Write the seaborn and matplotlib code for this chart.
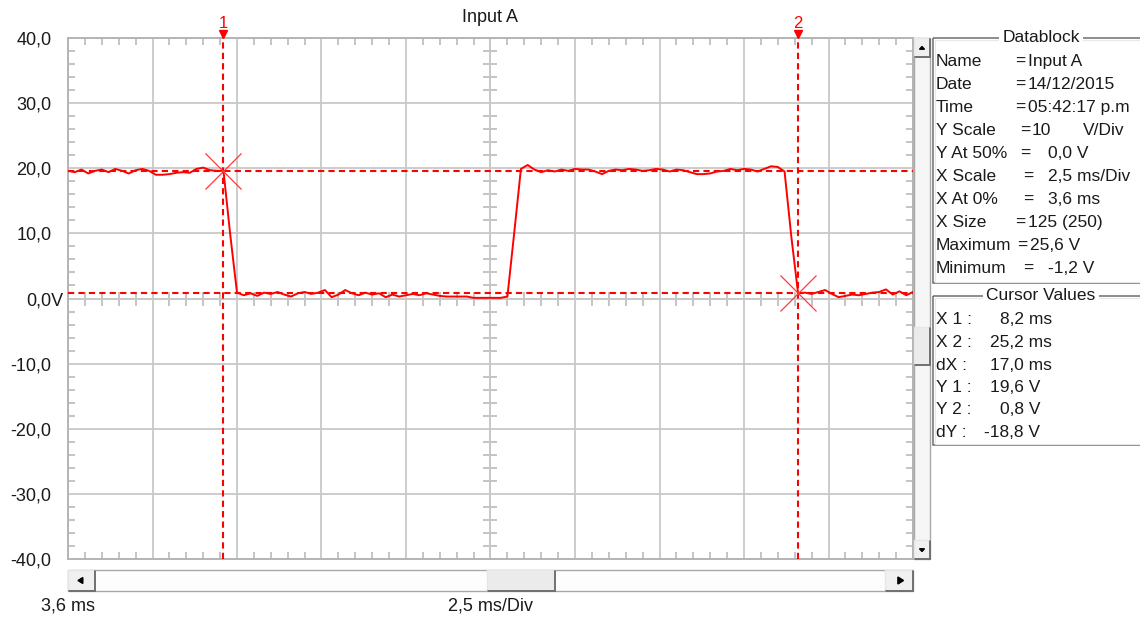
import numpy as np
import pandas as pd
import matplotlib
matplotlib.use("Agg")
import matplotlib.pyplot as plt
from matplotlib.patches import Rectangle, Polygon
from matplotlib.ticker import FixedLocator
from matplotlib.transforms import ScaledTranslation, blended_transform_factory
import seaborn as sns

# ---------------- captured trace ----------------
channel = "Input A"
t_start_ms = 3.6          # X at 0%
dt_ms = 0.2               # sample interval
x_div_ms = 2.5            # ms / div
y_div_v = 10              # V / div
n_xdiv = 10
n_ydiv = 8

volts = [
    19.6, 19.4, 19.8, 19.2, 19.6, 19.8, 19.4, 19.9, 19.6, 19.2,
    19.7, 19.9, 19.6, 19.0, 19.0, 19.1, 19.3, 19.4, 19.3, 19.9,
    20.1, 19.7, 19.6, 19.6, 9.8,
    0.9, 0.5, 0.8, 0.4, 0.9, 0.7, 1.0, 0.6, 0.3, 0.8,
    1.0, 0.7, 0.9, 1.3, 0.2, 0.6, 1.3, 0.8, 0.5, 0.9,
    0.6, 0.8, 0.2, 0.6, 0.3, 0.5, 0.7, 0.5, 0.8, 0.6,
    0.4, 0.3, 0.3, 0.3, 0.3, 0.1, 0.1, 0.1, 0.1, 0.1,
    0.3, 10.0, 19.9,
    20.5, 19.8, 19.4, 19.7, 19.5, 19.8, 19.6, 19.9, 19.8, 19.8,
    19.5, 19.1, 19.6, 19.8, 19.7, 19.9, 19.8, 19.6, 19.7, 19.9,
    19.8, 19.5, 19.8, 19.7, 19.4, 19.1, 19.1, 19.2, 19.5, 19.6,
    19.9, 19.7, 19.9, 19.8, 19.5, 19.9, 20.3, 20.2, 19.5,
    9.5, 0.8,
    0.9, 0.7, 1.0, 1.3, 0.7, 0.2, 0.4, 0.6, 0.5, 0.7,
    0.9, 1.0, 1.4, 0.6, 1.1, 0.5, 1.0,
]

y_tick_values = [40, 30, 20, 10, 0, -10, -20, -30, -40]
y_tick_labels = ["40,0", "30,0", "20,0", "10,0", "0,0V",
                 "-10,0", "-20,0", "-30,0", "-40,0"]

cursor_names = ["1", "2"]
cursor_x_ms = [8.2, 25.2]
cursor_y_v = [19.6, 0.8]

datablock_rows = [
    ("Name", "=", "Input A"),
    ("Date", "=", "14/12/2015"),
    ("Time", "=", "05:42:17 p.m"),
    ("Y Scale", "=", "10"),
    ("Y At 50%", "=", "0,0 V"),
    ("X Scale", "=", "2,5 ms/Div"),
    ("X At 0%", "=", "3,6 ms"),
    ("X Size", "=", "125 (250)"),
    ("Maximum", "=", "25,6 V"),
    ("Minimum", "=", "-1,2 V"),
]
cursor_rows = [
    ("X 1 :", "8,2 ms"),
    ("X 2 :", "25,2 ms"),
    ("dX :", "17,0 ms"),
    ("Y 1 :", "19,6 V"),
    ("Y 2 :", "0,8 V"),
    ("dY :", "-18,8 V"),
]

# ---------------- style ----------------
sns.set_theme(style="white")
plt.rcParams["font.family"] = ["Liberation Sans", "DejaVu Sans"]
TXT = "#1a1a1a"
RED = "#ff0000"
GRID = "#c8c8c8"
FRAME = "#b4b4b4"

W, H = 1140, 621
fig = plt.figure(figsize=(W / 100, H / 100), dpi=100)
fig.patch.set_facecolor("white")

L, R, T, B = 68, 913, 38, 559
pos = [L / W, 1 - B / H, (R - L) / W, (B - T) / H]

x_end = t_start_ms + n_xdiv * x_div_ms
y_top = n_ydiv / 2 * y_div_v
major_x = [t_start_ms + k * x_div_ms for k in range(n_xdiv + 1)]
minor_x = [t_start_ms + k * x_div_ms / 5 for k in range(n_xdiv * 5 + 1)]
major_y = [-y_top + k * y_div_v for k in range(n_ydiv + 1)]
minor_y = [-y_top + k * y_div_v / 5 for k in range(n_ydiv * 5 + 1)]
x_mid = t_start_ms + n_xdiv / 2 * x_div_ms

# centre axes: cross-hair spines with in/out minor ticks
axc = fig.add_axes(pos)
axc.set_zorder(0)
axc.set_xlim(t_start_ms, x_end)
axc.set_ylim(-y_top, y_top)
axc.xaxis.set_major_locator(FixedLocator(major_x))
axc.xaxis.set_minor_locator(FixedLocator(minor_x))
axc.yaxis.set_major_locator(FixedLocator(major_y))
axc.yaxis.set_minor_locator(FixedLocator(minor_y))
axc.grid(True, which="major", color=GRID, lw=1.3)
for s in ("top", "right"):
    axc.spines[s].set_visible(False)
axc.spines["left"].set_position(("data", x_mid))
axc.spines["bottom"].set_position(("data", 0))
for s in ("left", "bottom"):
    axc.spines[s].set_color(GRID)
    axc.spines[s].set_linewidth(1.3)
axc.tick_params(which="major", length=0, labelleft=False, labelbottom=False)
axc.tick_params(which="minor", direction="inout", length=10, width=1.1,
                color=FRAME, left=True, bottom=True)

# main axes
ax = fig.add_axes(pos)
ax.set_zorder(1)
ax.patch.set_visible(False)

t = np.round(t_start_ms + dt_ms * np.arange(len(volts)), 2)
df = pd.DataFrame({"t": t, "v": volts})
sns.lineplot(data=df, x="t", y="v", ax=ax, color=RED, lw=1.4,
             legend=False, zorder=3)

ax.set_xlim(t_start_ms, x_end)
ax.set_ylim(-y_top, y_top)
ax.set_xlabel("")
ax.set_ylabel("")
ax.xaxis.set_major_locator(FixedLocator(major_x))
ax.xaxis.set_minor_locator(FixedLocator(minor_x))
ax.yaxis.set_major_locator(FixedLocator(y_tick_values))
ax.yaxis.set_minor_locator(FixedLocator(minor_y))
ax.set_yticklabels(y_tick_labels)
for s in ax.spines.values():
    s.set_color(FRAME)
    s.set_linewidth(1.4)
ax.tick_params(which="major", length=0, labelbottom=False, labelleft=True,
               pad=12, labelsize=13, labelcolor=TXT)
ax.tick_params(which="minor", direction="in", length=5, width=1.1,
               color=FRAME, top=True, right=True, bottom=True, left=True)
# the zero label carries the unit; keep its number aligned with the others
for lab in ax.get_yticklabels():
    if lab.get_text().endswith("V"):
        lab.set_transform(lab.get_transform() +
                          ScaledTranslation(12 / 100, 0, fig.dpi_scale_trans))

# cursors
dash = (0, (3, 2))
top_tr = blended_transform_factory(ax.transData, ax.transAxes)
extra = 4 / (B - T)
for name, cx, cy in zip(cursor_names, cursor_x_ms, cursor_y_v):
    ax.axvline(cx, ymin=0, ymax=1 + extra, color=RED, lw=1.5, ls=dash,
               clip_on=False, zorder=4)
    ax.axhline(cy, color=RED, lw=1.5, ls=dash, zorder=4)
    ax.plot([cx], [1 + extra], marker="v", ms=6, color=RED, mec=RED,
            transform=top_tr, clip_on=False, zorder=5)
    ax.text(cx, 1 + 14 / (B - T), name, transform=top_tr, color=RED,
            fontsize=12, ha="center", va="center", clip_on=False)
ax.plot(cursor_x_ms, cursor_y_v, ls="none", marker="x", ms=26, mew=0.9,
        color="#ff3a3a", zorder=5)

# ---------------- window furniture (pixel coordinates) ----------------
ov = fig.add_axes([0, 0, 1, 1])
ov.set_zorder(2)
ov.patch.set_visible(False)
ov.set_xlim(0, W)
ov.set_ylim(H, 0)
ov.axis("off")


def bevel(x0, y0, x1, y1, face="#f0f0f0"):
    ov.add_patch(Rectangle((x0, y0), x1 - x0, y1 - y0, facecolor=face,
                           edgecolor="none"))
    ov.plot([x0, x1], [y0, y0], color="#e6e6e6", lw=1)
    ov.plot([x0, x0], [y0, y1], color="#e6e6e6", lw=1)
    ov.plot([x0 + 1, x1], [y1, y1], color="#707070", lw=1.4)
    ov.plot([x1, x1], [y0 + 1, y1], color="#707070", lw=1.4)


def tri(cx, cy, d, s=3.5):
    if d == "l":
        pts = [(cx - s, cy), (cx + s * 0.6, cy - s), (cx + s * 0.6, cy + s)]
    elif d == "r":
        pts = [(cx + s, cy), (cx - s * 0.6, cy - s), (cx - s * 0.6, cy + s)]
    elif d == "u":
        pts = [(cx, cy - s * 0.6), (cx - s, cy + s * 0.5), (cx + s, cy + s * 0.5)]
    else:
        pts = [(cx, cy + s * 0.6), (cx - s, cy - s * 0.5), (cx + s, cy - s * 0.5)]
    ov.add_patch(Polygon(pts, closed=True, color="black"))


# horizontal scrollbar
ov.add_patch(Rectangle((L, 570), R - L, 21, facecolor="#fdfdfd",
                       edgecolor="#a8a8a8", lw=1))
bevel(L, 570, L + 27, 591)
tri(L + 13, 580.5, "l", 3)
bevel(R - 28, 570, R, 591)
tri(R - 13, 580.5, "r", 3.5)
bevel(487, 570, 555, 591, face="#ebebeb")

# vertical scrollbar
ov.add_patch(Rectangle((R + 1, T), 16, B - T, facecolor="#f6f6f6",
                       edgecolor="#a8a8a8", lw=1))
bevel(R + 1, T, R + 17, T + 19)
tri(R + 9, T + 10, "u", 2.5)
bevel(R + 1, B - 19, R + 17, B)
tri(R + 9, B - 9, "d", 2.5)
bevel(R + 1, 327, R + 17, 365, face="#ebebeb")

# axis captions
ov.text(490, 17, channel, ha="center", va="center", fontsize=13, color=TXT)
ov.text(68, 606, "3,6 ms", ha="center", va="center", fontsize=13, color=TXT)
ov.text(490, 606, "2,5 ms/Div", ha="center", va="center", fontsize=13,
        color=TXT)


def group_box(x0, y0, y1, title):
    ov.add_patch(Rectangle((x0, y0), W + 20 - x0, y1 - y0, facecolor="none",
                           edgecolor="#6e6e6e", lw=1.1, clip_on=False))
    ov.add_patch(Rectangle((x0 + 1.5, y0 + 1.5), W + 20 - x0, y1 - y0 - 3,
                           facecolor="none", edgecolor="#e8e8e8", lw=0.8))
    ov.text(1041, y0, title, ha="center", va="center", fontsize=12.5,
            color=TXT, bbox=dict(facecolor="white", edgecolor="none",
                                 pad=2.5))


group_box(933, 38, 283, "Datablock")
group_box(933, 296, 445, "Cursor Values")

eq_x = [1015, 1015, 1015, 1020, 1020, 1023, 1023, 1015, 1017, 1023]
val_x = [1028, 1028, 1028, 1032, 1048, 1048, 1048, 1028, 1030, 1048]
for k, (lab, eq, val) in enumerate(datablock_rows):
    y = 61.5 + k * 23
    ov.text(936, y, lab, ha="left", va="center", fontsize=12.5, color=TXT)
    ov.text(eq_x[k], y, eq, ha="left", va="center", fontsize=12.5, color=TXT)
    ov.text(val_x[k], y, val, ha="left", va="center", fontsize=12.5,
            color=TXT)
ov.text(1083, 61.5 + 3 * 23, "V/Div", ha="left", va="center", fontsize=12.5,
        color=TXT)

cv_x = [1000, 990, 990, 990, 1000, 984]
for k, (lab, val) in enumerate(cursor_rows):
    y = 320 + k * 22.5
    ov.text(936, y, lab, ha="left", va="center", fontsize=12.5, color=TXT)
    ov.text(cv_x[k], y, val, ha="left", va="center", fontsize=12.5,
            color=TXT)

fig.savefig("out.png", dpi=100, facecolor="white")
